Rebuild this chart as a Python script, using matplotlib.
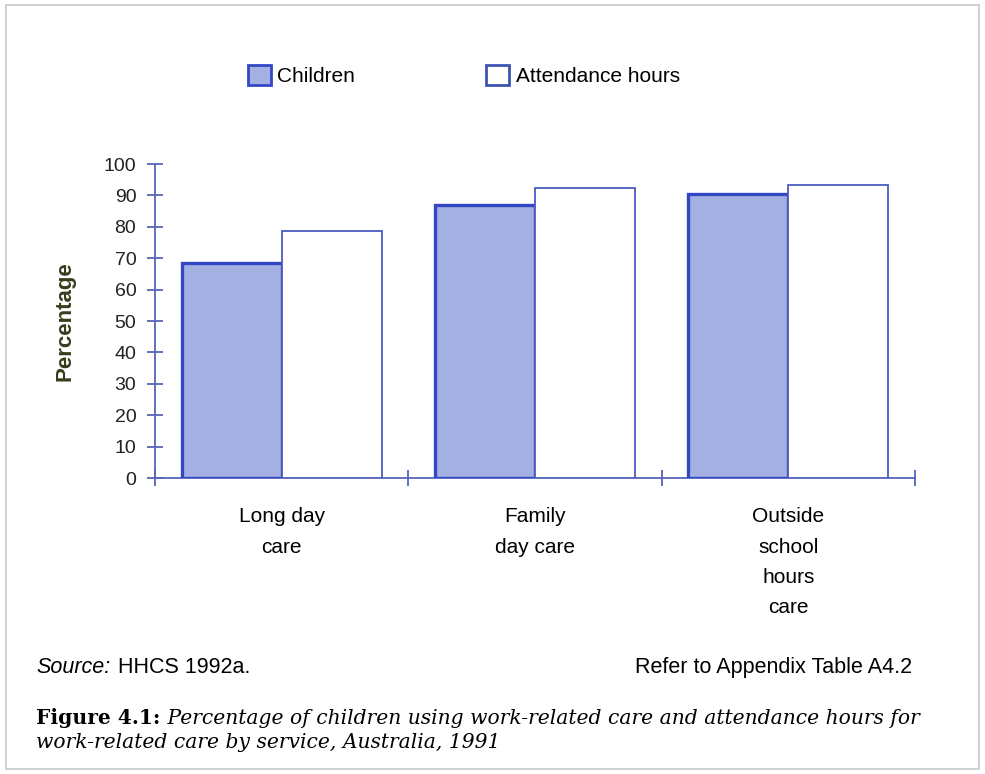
import matplotlib
matplotlib.use("Agg")
import numpy as np
import matplotlib.pyplot as plt
from matplotlib.patches import Patch, Rectangle

# values (per cent)
services = ["Long day\ncare", "Family\nday care", "Outside\nschool\nhours\ncare"]
children = [68.5, 87.0, 90.5]
attendance = [78.7, 92.4, 93.3]
yticks = [0, 10, 20, 30, 40, 50, 60, 70, 80, 90, 100]

AXIS_BLUE = "#5566bb"
FILL_BLUE = "#a5b0e2"
EDGE_BLUE = "#3347c4"

plt.rcParams["font.family"] = ["Liberation Sans", "DejaVu Sans"]

fig = plt.figure(figsize=(9.85, 7.74), dpi=100)
ax = fig.add_axes([0.1574, 0.3824, 0.7716, 0.4057])

x = np.arange(len(services))
w = 0.395
ax.bar(x - w / 2, children, width=w, color=FILL_BLUE, edgecolor=EDGE_BLUE,
       linewidth=2.4, zorder=3)
ax.bar(x + w / 2, attendance, width=w, color="white", edgecolor="#4a5cc0",
       linewidth=1.3, zorder=3)

ax.set_xlim(-0.5, len(services) - 0.5)
ax.set_ylim(0, 100)
for s in ("top", "right"):
    ax.spines[s].set_visible(False)
for s in ("left", "bottom"):
    ax.spines[s].set_color(AXIS_BLUE)
    ax.spines[s].set_linewidth(1.3)

ax.set_yticks(yticks)
ax.set_yticklabels([str(v) for v in yticks], fontsize=14, color="#222222")
ax.tick_params(axis="y", direction="inout", length=11, width=1.3,
               color=AXIS_BLUE, pad=8)

# category boundaries as major ticks, names on minor ticks
ax.set_xticks(np.arange(len(services) + 1) - 0.5)
ax.set_xticklabels([])
ax.tick_params(axis="x", which="major", direction="inout", length=11,
               width=1.3, color=AXIS_BLUE)
ax.set_xticks(x, services, minor=True)
ax.tick_params(axis="x", which="minor", length=0, pad=21, labelsize=15)
for lab in ax.get_xticklabels(minor=True):
    lab.set_linespacing(1.76)
    lab.set_va("top")

ax.set_ylabel("Percentage", fontsize=16, fontweight="bold", color="#3a3a1c")
ax.yaxis.set_label_coords(-0.105, 0.5)

handles = [Patch(facecolor=FILL_BLUE, edgecolor=EDGE_BLUE, linewidth=2),
           Patch(facecolor="white", edgecolor="#3d55b0", linewidth=2)]
fig.legend(handles, ["Children", "Attendance hours"], loc="center",
           bbox_to_anchor=(0.471, 0.903), ncol=2, frameon=False, fontsize=15,
           handlelength=1.1, handleheight=1.1, handletextpad=0.3,
           columnspacing=6.3)

fig.text(0.037, 0.137, "Source:", fontsize=15.5, style="italic", va="center")
fig.text(0.120, 0.137, "HHCS 1992a.", fontsize=15.5, va="center")
fig.text(0.926, 0.137, "Refer to Appendix Table A4.2", fontsize=15.5,
         ha="right", va="center")

serif = ["DejaVu Serif"]
t1 = fig.text(0.037, 0.064, "Figure 4.1:", fontsize=14.6, fontweight="bold",
              family=serif, va="baseline")
ax.annotate(" Percentage of children using work-related care and attendance hours for",
            xy=(1, 0), xycoords=t1, fontsize=14.6, style="italic", family=serif,
            va="bottom", annotation_clip=False)
fig.text(0.037, 0.033, "work-related care by service, Australia, 1991",
         fontsize=14.6, style="italic", family=serif, va="baseline")

fig.patches.append(Rectangle((0.006, 0.006), 0.988, 0.988,
                             transform=fig.transFigure, fill=False,
                             edgecolor="#c8c8c8", linewidth=1.2))

fig.savefig("out.png", dpi=100)
